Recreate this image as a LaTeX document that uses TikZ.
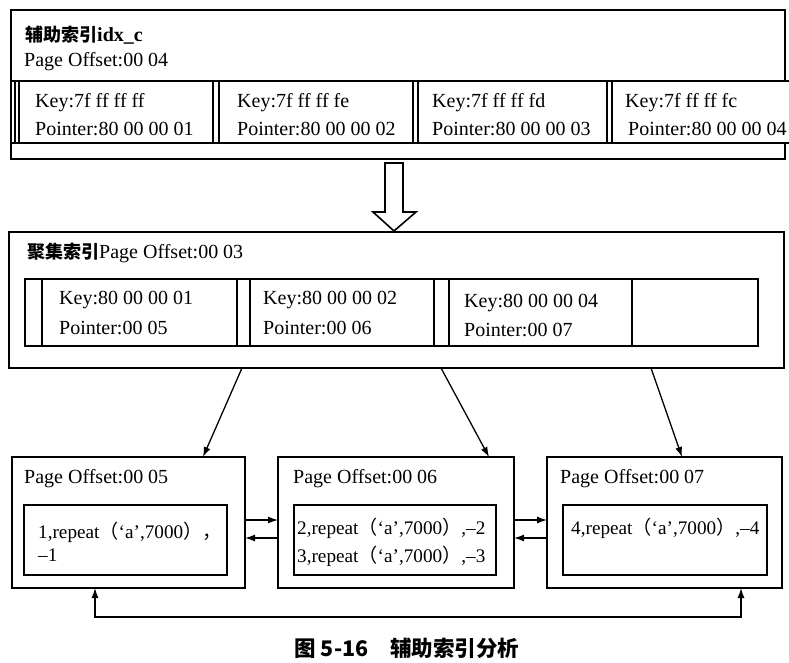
\documentclass[tikz,border=0pt]{standalone}
\usepackage{fontspec}
\setmainfont{Liberation Serif}
\newfontfamily\cjk{Noto Sans CJK SC}
\usetikzlibrary{arrows.meta,calc}
\tikzset{
  box/.style={draw, line width=1.7pt, anchor=north west, inner sep=0pt, outer sep=0pt},
  rule/.style={line width=1.7pt},
  thinrule/.style={line width=1.3pt},
  lbl/.style={anchor=west, inner sep=0pt, font=\fontsize{20}{23}\selectfont, align=left},
  rec/.style={lbl, font=\fontsize{19.2}{23}\selectfont},
  conn/.style={line width=1.3pt, -{Latex[length=10pt,width=7pt]}},
  conn2/.style={line width=1.3pt, {Latex[length=10pt,width=7pt]}-{Latex[length=10pt,width=7pt]}},
  hollow/.style={draw, line width=1.6pt, fill=white, line join=miter},
}
\newcommand{\zh}[1]{{\cjk\bfseries\fontsize{18}{20}\selectfont #1}}
\newcommand{\zp}[1]{{\cjk #1}}
\begin{document}
\begin{tikzpicture}[x=1pt,y=-1pt]
\useasboundingbox (0,0) rectangle (789,663);
% ---------- top: secondary index page ----------
\draw[rule] (785,81) |- (11,10) |- (785,159) -- (785,143);
\draw[rule] (11,81) -- (789,81) (11,143) -- (789,143);
\foreach \x in {15,19,213,219,413,418,607,612}
  \draw[thinrule] (\x,81) -- (\x,143);
\node[lbl] (ttitle) at (25,35) {\zh{辅助索引}\textbf{idx\_c}};
\node[lbl] (tpage) at (24,62) {Page Offset:00 04};
\node[lbl] (tk1) at (35,103) {Key:7f ff ff ff};
\node[lbl] (tp1) at (35,129) {Pointer:80 00 00 01};
\node[lbl] (tk2) at (237,103) {Key:7f ff ff fe};
\node[lbl] (tp2) at (237,129) {Pointer:80 00 00 02};
\node[lbl] (tk3) at (432,103) {Key:7f ff ff fd};
\node[lbl] (tp3) at (432,129) {Pointer:80 00 00 03};
\node[lbl] (tk4) at (625,103) {Key:7f ff ff fc};
\node[lbl] (tp4) at (628,129) {Pointer:80 00 00 04};
% ---------- hollow arrow ----------
\draw[hollow] (394,231) -- (373,212) -- (385,212) -- (385,163) -- (403,163) -- (403,212) -- (416,212) -- cycle;
% ---------- middle: clustered index page ----------
\node[box, minimum width=775pt, minimum height=136pt] (mid) at (9,232) {};
\node[lbl] (mtitle) at (27,253) {\zh{聚集索引}Page Offset:00 03};
\node[box, minimum width=733pt, minimum height=67pt] (mrow) at (25,279) {};
\foreach \x in {42,237,250,434,449,632}
  \draw[thinrule] (\x,279) -- (\x,346);
\node[lbl] (mk1) at (59,300) {Key:80 00 00 01};
\node[lbl] (mp1) at (59,328) {Pointer:00 05};
\node[lbl] (mk2) at (263,300) {Key:80 00 00 02};
\node[lbl] (mp2) at (263,328) {Pointer:00 06};
\node[lbl] (mk3) at (464,303) {Key:80 00 00 04};
\node[lbl] (mp3) at (464,330) {Pointer:00 07};
% ---------- bottom data pages ----------
\node[box, minimum width=233pt, minimum height=131pt] (b1) at (12,457) {};
\node[box, minimum width=236pt, minimum height=131pt] (b2) at (278,457) {};
\node[box, minimum width=235pt, minimum height=131pt] (b3) at (547,457) {};
\node[box, minimum width=203pt, minimum height=70pt] (i1) at (24,505) {};
\node[box, minimum width=202pt, minimum height=70pt] (i2) at (294,505) {};
\node[box, minimum width=204pt, minimum height=70pt] (i3) at (563,505) {};
\node[lbl] (bt1) at (24,479) {Page Offset:00 05};
\node[lbl] (bt2) at (293,479) {Page Offset:00 06};
\node[lbl] (bt3) at (560,479) {Page Offset:00 07};
\node[rec] (r1) at (38,541.5) {1,repeat\zp{（}‘a’,7000\zp{），}\\[0pt]–1};
\node[rec, font=\fontsize{19.2}{28}\selectfont] (r2) at (297,542) {2,repeat\zp{（}‘a’,7000\zp{）},–2\\3,repeat\zp{（}‘a’,7000\zp{）},–3};
\node[rec] (r4) at (571,528) {4,repeat\zp{（}‘a’,7000\zp{）},–4};
% ---------- connectors ----------
\draw[conn] ([xshift=-154.5pt]mid.south) -- ([xshift=74.5pt]b1.north);
\draw[conn] ([xshift=44.5pt]mid.south) -- ([xshift=93pt]b2.north);
\draw[conn] ([xshift=254.5pt]mid.south) -- ([xshift=17.5pt]b3.north);
\draw[conn] ([yshift=2.5pt]b1.east) -- ([yshift=2.5pt]b2.west);
\draw[conn] ([yshift=-15.5pt]b2.west) -- ([yshift=-15.5pt]b1.east);
\draw[conn] ([yshift=2.5pt]b2.east) -- ([yshift=2.5pt]b3.west);
\draw[conn] ([yshift=-15.5pt]b3.west) -- ([yshift=-15.5pt]b2.east);
\draw[conn2] ([xshift=-33.5pt]b1.south) -- ++(0,29) -| ([xshift=76.5pt]b3.south);
% ---------- caption ----------
\node[inner sep=0pt, font=\cjk\bfseries\fontsize{21.5}{24}\selectfont] (cap) at (407,648) {图 5-16\hspace{22pt}辅助索引分析};
\end{tikzpicture}
\end{document}
